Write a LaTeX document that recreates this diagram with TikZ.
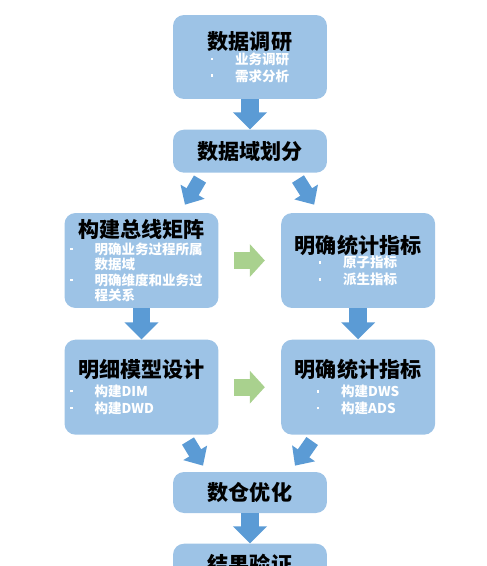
\documentclass[tikz,border=0pt]{standalone}
\usepackage{fontspec}
\setmainfont{Noto Sans CJK SC}
\usetikzlibrary{positioning,arrows.meta}
\definecolor{boxc}{RGB}{157,195,230}
\definecolor{flowc}{RGB}{91,155,213}
\definecolor{sidec}{RGB}{169,209,142}
\newcommand\ttl[1]{\makebox[3.08cm][c]{\fontsize{12}{14}\selectfont\bfseries #1}}
\newcommand\itm[2]{\makebox[3.08cm][l]{\color{white}\hspace*{#1}\makebox[0pt]{\rule[0.3em]{1.4pt}{1.4pt}}\hspace*{0.46cm}\bfseries #2}}
\newcommand\cont[2]{\makebox[3.08cm][l]{\color{white}\hspace*{#1}\bfseries #2}}
\tikzset{
  box/.style={fill=boxc, rounded corners=0.22cm, minimum width=3.08cm, inner sep=0pt, align=left, font=\fontsize{7.7}{9.6}\selectfont},
  flow/.style={draw=flowc, line width=0.36cm, -{Triangle[width=0.66cm,length=0.34cm]}},
  slant/.style={draw=flowc, line width=0.28cm, -{Triangle[width=0.54cm,length=0.3cm]}},
  side/.style={draw=sidec, line width=0.34cm, -{Triangle[width=0.64cm,length=0.3cm]}}
}
\begin{document}
\begin{tikzpicture}[x=0.02cm, y=-0.02cm]
  \useasboundingbox (0,0) rectangle (487,566);
  \clip (0,0) rectangle (487,566);
  \node[box, minimum height=1.68cm] (survey) at (250,57) {\ttl{数据调研}\\[-1.4pt] \itm{0.78cm}{业务调研}\\ \itm{0.78cm}{需求分析}};
  \node[box, minimum height=0.86cm, below=0.6cm of survey] (domain) {\ttl{数据域划分}};
  \node[box, minimum height=1.9cm] (bus) at (141.5,260.5) {\ttl{构建总线矩阵}\\ \itm{0.14cm}{明确业务过程所属}\\[-0.8pt] \cont{0.6cm}{数据域}\\[-0.8pt] \itm{0.14cm}{明确维度和业务过}\\[-0.8pt] \cont{0.6cm}{程关系}};
  \node[box, minimum height=1.9cm, right=1.24cm of bus] (metric) {\ttl{明确统计指标}\\[-1.4pt] \itm{0.78cm}{原子指标}\\ \itm{0.78cm}{派生指标}};
  \node[box, minimum height=1.9cm, below=0.62cm of bus] (model) {\ttl{明细模型设计}\\[1pt] \itm{0.14cm}{构建DIM}\\ \itm{0.14cm}{构建DWD}};
  \node[box, minimum height=1.9cm, right=1.24cm of model] (summary) {\ttl{明确统计指标}\\[1pt] \itm{0.74cm}{构建DWS}\\ \itm{0.74cm}{构建ADS}};
  \node[box, minimum height=0.82cm] (tune) at (250,492.5) {\ttl{数仓优化}};
  \node[box, minimum height=0.82cm, below=0.6cm of tune] (check) {\ttl{结果验证}};

  \draw[flow] (survey) -- (domain);
  \draw[slant] ([xshift=-1cm,yshift=-0.12cm]domain.south) -- ([xshift=0.87cm,yshift=0.16cm]bus.north);
  \draw[slant] ([xshift=0.96cm,yshift=-0.12cm]domain.south) -- ([xshift=-0.88cm,yshift=0.16cm]metric.north);
  \draw[side] ([xshift=0.3cm]bus.east) -- ([xshift=-0.32cm]metric.west);
  \draw[flow] (bus) -- (model);
  \draw[flow] (metric) -- (summary);
  \draw[side] ([xshift=0.3cm]model.east) -- ([xshift=-0.32cm]summary.west);
  \draw[slant] ([xshift=0.93cm,yshift=-0.12cm]model.south) -- ([xshift=-0.94cm,yshift=0.12cm]tune.north);
  \draw[slant] ([xshift=-0.92cm,yshift=-0.12cm]summary.south) -- ([xshift=0.9cm,yshift=0.12cm]tune.north);
  \draw[flow] (tune) -- (check);
\end{tikzpicture}
\end{document}
